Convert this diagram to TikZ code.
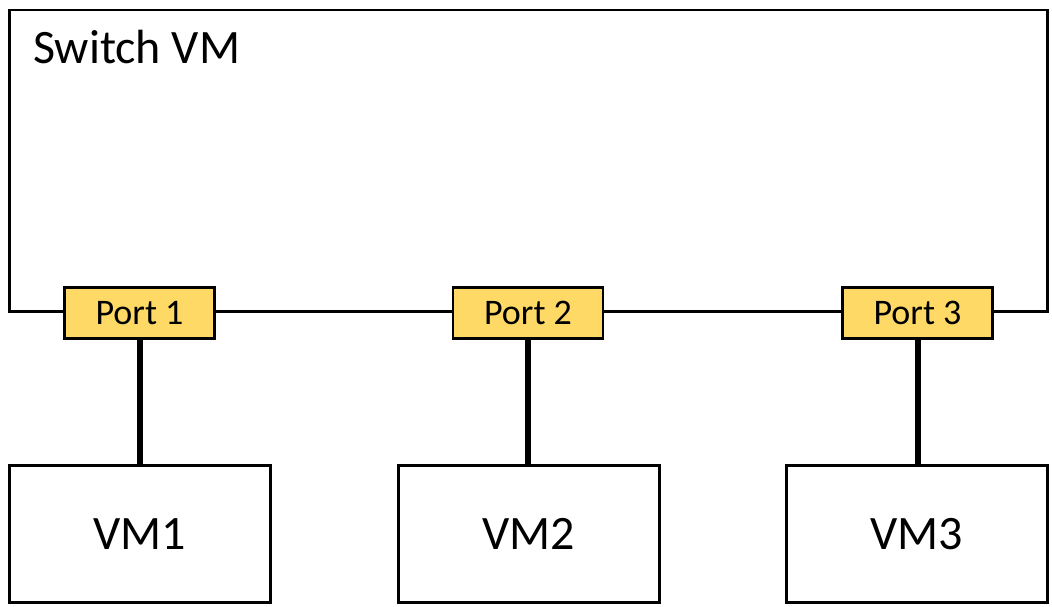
\documentclass[tikz,border=0pt]{standalone}
\usepackage{fontspec}
\setmainfont{Carlito}
\definecolor{portyellow}{HTML}{FFD966}
\begin{document}
\begin{tikzpicture}[x=1pt,y=-1pt,
  thinline/.style={line width=2.8pt},
  portbox/.style={draw, thinline, fill=portyellow, minimum width=150pt, minimum height=51pt, inner sep=0pt, font=\fontsize{36}{40}\selectfont},
  vmbox/.style={draw, thinline, fill=white, minimum width=261pt, minimum height=137pt, inner sep=0pt, font=\fontsize{48}{54}\selectfont},
  link/.style={line width=6pt}]
\useasboundingbox (0,0) rectangle (1052,606);
\node[draw, thinline, minimum width=1038pt, minimum height=301.5pt, inner sep=0pt] (switch) at (528.5,160.75) {};
\node[anchor=base west, inner sep=0pt, font=\fontsize{48}{54}\selectfont] (title) at (33,63) {Switch VM};
\node[portbox] (p1) at (139.5,313) {Port 1};
\node[portbox] (p2) at (528,313) {Port 2};
\node[portbox] (p3) at (917.5,313) {Port 3};
\node[vmbox] (vm1) at (140,534) {VM1};
\node[vmbox] (vm2) at (529,534) {VM2};
\node[vmbox] (vm3) at (917,534) {VM3};
\draw[link] (p1.south) -- (vm1.north -| p1.south);
\draw[link] (p2.south) -- (vm2.north -| p2.south);
\draw[link] (p3.south) -- (vm3.north -| p3.south);
\end{tikzpicture}
\end{document}
